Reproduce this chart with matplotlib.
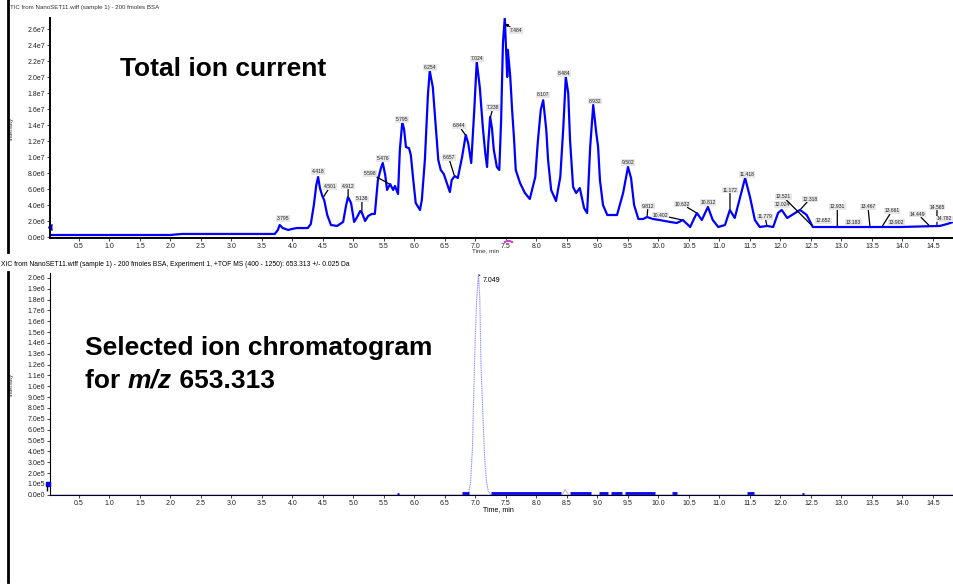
import matplotlib
import numpy as np

matplotlib.use("Agg")
import matplotlib.pyplot as plt
from matplotlib.lines import Line2D
from matplotlib.text import Annotation
from matplotlib.ticker import FuncFormatter, MultipleLocator

plt.rcParams["font.family"] = ["Liberation Sans", "DejaVu Sans"]

# total ion current trace (time in min, intensity in counts)
tic_time = [
    0.02, 0.84, 1.99, 2.19, 3.71, 3.76, 3.79, 3.84, 3.93, 3.99, 4.07, 4.25, 4.30, 4.35, 4.39,
    4.42, 4.45, 4.49, 4.52, 4.57, 4.63, 4.73, 4.83, 4.88, 4.91, 4.96, 5.01, 5.06, 5.11, 5.14,
    5.19, 5.24, 5.30, 5.35, 5.40, 5.45, 5.48, 5.52, 5.55, 5.60, 5.65, 5.68, 5.73, 5.76, 5.80,
    5.83, 5.86, 5.91, 5.94, 5.98, 6.02, 6.09, 6.12, 6.17, 6.22, 6.25, 6.30, 6.35, 6.39, 6.43,
    6.48, 6.53, 6.58, 6.61, 6.66, 6.71, 6.78, 6.84, 6.88, 6.93, 6.98, 7.02, 7.07, 7.12, 7.16,
    7.19, 7.21, 7.24, 7.27, 7.30, 7.35, 7.39, 7.42, 7.45, 7.48, 7.52, 7.53, 7.57, 7.60, 7.63,
    7.66, 7.73, 7.81, 7.89, 7.98, 8.02, 8.07, 8.11, 8.16, 8.19, 8.24, 8.32, 8.39, 8.44, 8.48,
    8.52, 8.55, 8.60, 8.65, 8.71, 8.78, 8.83, 8.88, 8.93, 8.98, 9.01, 9.04, 9.09, 9.16, 9.32,
    9.42, 9.50, 9.55, 9.60, 9.67, 9.75, 9.81, 9.91, 10.02, 10.19, 10.30, 10.40, 10.52, 10.58,
    10.63, 10.71, 10.81, 10.89, 10.98, 11.09, 11.17, 11.25, 11.34, 11.42, 11.50, 11.58, 11.66,
    11.78, 11.88, 11.96, 12.02, 12.11, 12.24, 12.32, 12.43, 12.53, 13.14, 13.96, 14.61, 14.73,
    14.83,
]
tic_int = [
    0.25, 0.25, 0.25, 0.38, 0.38, 0.88, 1.50, 1.12, 0.88, 1.00, 1.12, 1.12, 1.62, 4.00, 6.50,
    7.50, 6.10, 5.10, 4.60, 2.75, 1.50, 1.38, 1.88, 4.00, 5.00, 4.25, 1.88, 2.50, 3.25, 3.00,
    2.00, 2.62, 2.88, 2.88, 7.12, 8.62, 9.25, 7.75, 5.88, 6.62, 5.88, 6.38, 5.38, 10.9, 14.4,
    13.4, 11.25, 11.1, 10.25, 7.12, 4.25, 3.38, 4.62, 9.62, 17.75, 20.75, 18.75, 13.75, 9.62, 8.38,
    7.88, 6.75, 5.62, 7.12, 7.62, 7.38, 10.0, 12.75, 11.75, 9.25, 15.9, 21.9, 18.75, 13.75, 10.5,
    8.75, 11.75, 15.0, 13.6, 10.9, 8.75, 8.38, 14.6, 24.25, 27.4, 20.0, 23.4, 20.0, 15.9, 12.5,
    8.38, 6.75, 5.50, 4.75, 7.50, 11.75, 15.9, 17.1, 13.4, 9.62, 5.88, 4.50, 7.50, 13.75, 20.0,
    18.0, 12.1, 6.25, 5.50, 6.12, 3.62, 3.00, 11.25, 16.5, 13.0, 11.25, 7.12, 4.00, 2.75, 2.75,
    5.50, 8.75, 7.38, 4.00, 2.25, 2.25, 2.50, 2.25, 2.12, 1.88, 1.75, 2.12, 1.25, 2.25,
    3.00, 2.12, 3.75, 2.12, 1.25, 1.50, 3.38, 2.38, 5.00, 7.38, 5.00, 2.12, 1.25,
    1.38, 1.25, 3.00, 3.38, 2.38, 3.00, 3.38, 2.75, 1.25, 1.25, 1.25, 1.38, 1.62,
    1.88,
]
tic_int = np.array(tic_int) * 1e6

# labelled TIC peaks: retention time, label offset (px right, px up), leader line kind
peak_time = [3.795, 4.418, 4.501, 4.912, 5.138, 5.476, 5.598, 5.795, 6.254, 6.657, 6.844,
             7.024, 7.238, 7.484, 8.107, 8.484, 8.932, 9.502, 9.812, 10.402, 10.632, 10.812,
             11.172, 11.418, 11.779, 12.024, 12.521, 12.318, 12.652, 12.931, 13.183, 13.467,
             13.661, 13.902, 14.449, 14.565, 14.782]
peak_dx = [3, 0, 7, 0, 0, 0, -20, 0, 0, -6, -7, 0, 3, 11, 0, -2, 2, 0, 1, -23, -15, 0, 0,
           2, -2, 0, -29, 10, 3, 0, 1, -2, 10, 0, -12, 0, -6]
peak_dy = [7, 6, 11, 11, 14, 5, 11, 6, 5, 19, 10, 5, 11, -7, 6, 5, 5, 5, 11, 5, 9, 5, 20,
           4, 9, 6, 29, 11, 6, 20, 5, 20, 16, 5, 12, 19, 4]
peak_leader = [0, 0, 1, 1, 1, 0, 1, 0, 0, 1, 1, 0, 1, 2, 0, 0, 0, 0, 1, 1, 1, 0, 1,
               0, 1, 0, 1, 1, 0, 1, 0, 1, 1, 0, 1, 1, 0]

# extracted ion chromatogram, m/z 653.313
xic_time = [6.86, 6.89, 6.92, 6.95, 6.97, 6.99, 7.02, 7.049, 7.07, 7.09, 7.12, 7.15, 7.18, 7.21, 7.25]
xic_int = np.array([0.0, 0.02, 0.12, 0.43, 0.89, 1.35, 1.82, 2.03, 1.82, 1.20, 0.74, 0.34, 0.12, 0.03, 0.0]) * 1e6
xic_bump_time = [8.42, 8.47, 8.53]
xic_bump_int = np.array([0.0, 0.045, 0.0]) * 1e6
noise_start = [5.72, 6.78, 7.26, 8.55, 9.02, 9.22, 9.45, 10.22, 11.45, 12.36]
noise_end = [5.74, 6.90, 8.40, 8.90, 9.18, 9.40, 9.95, 10.31, 11.56, 12.38]
noise_level = [0.008, 0.012, 0.012, 0.012, 0.012, 0.012, 0.012, 0.012, 0.012, 0.008]
peak_label_time = 7.049

W, H = 954, 586
BLUE = "#0000ff"


def px(x, y):
    return x / W, 1 - y / H


def sci(v, pos):
    if v == 0:
        return "0.0e0"
    e = int(np.floor(np.log10(abs(v)) + 1e-9))
    return f"{v / 10 ** e:.1f}e{e}"


fig = plt.figure(figsize=(W / 100, H / 100), dpi=100)
ax1 = fig.add_axes([50 / W, 1 - 238 / H, 903 / W, 220 / H])
ax2 = fig.add_axes([50 / W, 1 - 495 / H, 903 / W, 222 / H])

for ax in (ax1, ax2):
    ax.spines["top"].set_visible(False)
    ax.spines["right"].set_visible(False)
    ax.set_xlim(0.0246, 14.828)
    ax.xaxis.set_major_locator(MultipleLocator(0.5))
    ax.xaxis.set_major_formatter(FuncFormatter(lambda v, p: "" if v < 0.25 else f"{v:.1f}"))
    ax.yaxis.set_major_formatter(FuncFormatter(sci))
    ax.tick_params(labelsize=5, length=2, width=0.6, pad=1.5, colors="#222222")
    ax.set_ylabel("Intensity", fontsize=4.5, color="#333333")
    ax.yaxis.set_label_coords(-0.041, 0.5)

# top panel: TIC
ax1.plot(tic_time, tic_int, color=BLUE, lw=1.6, solid_joinstyle="round")
ax1.set_ylim(-0.125e6, 27.375e6)
ax1.yaxis.set_major_locator(MultipleLocator(2e6))
for s in ("left", "bottom"):
    ax1.spines[s].set_linewidth(1.4)

tic_at = np.interp(peak_time, tic_time, tic_int)
for t, yv, dx, dy, lead in zip(peak_time, tic_at, peak_dx, peak_dy, peak_leader):
    props = None
    if lead == 1:
        props = dict(arrowstyle="-", color="k", lw=0.9, shrinkA=0, shrinkB=1)
    elif lead == 2:
        props = dict(arrowstyle="-|>", color="k", lw=0.8, mutation_scale=4, shrinkA=0, shrinkB=0)
    ax1.annotate(f"{t:.3f}", xy=(t, yv), xytext=(dx * 0.72, dy * 0.72), textcoords="offset points",
                 ha="center", va="center", fontsize=3.6, color="#222222",
                 bbox=dict(boxstyle="square,pad=0.15", fc="#e6e6e6", ec="none"),
                 arrowprops=props, annotation_clip=False)

# threshold marker and cursor on the TIC axes
ax1.plot([0.0], [1.25e6], marker=4, color=BLUE, ms=4, clip_on=False)
ax1.plot([7.53], [-0.015], marker=r"$\frown$", color="#cc44cc", ms=6,
         transform=ax1.get_xaxis_transform(), clip_on=False)

# bottom panel: XIC
ax2.plot([0.02, 14.83], [0, 0], color=BLUE, lw=1.0, zorder=3)
ax2.plot(xic_time, xic_int, color="#8c8cff", lw=0.8, ls=(0, (1, 0.6)), zorder=4)
ax2.plot(xic_bump_time, xic_bump_int, color="#b0b0ff", lw=0.7, zorder=4)
ax2.hlines(np.array(noise_level) * 1e6, noise_start, noise_end, color=BLUE, lw=2.0, zorder=4)
ax2.set_ylim(-0.003e6, 2.046e6)
ax2.yaxis.set_major_locator(MultipleLocator(1e5))
for s in ("left", "bottom"):
    ax2.spines[s].set_linewidth(0.8)
ax2.annotate(f"{peak_label_time:.3f}", xy=(peak_label_time, xic_int.max()), xytext=(3, -4.5),
             textcoords="offset points", ha="left", va="center", fontsize=5,
             arrowprops=dict(arrowstyle="-", color="k", lw=0.7, shrinkA=0, shrinkB=0))
ax2.plot([0.0], [1.0e5], marker="s", color=BLUE, ms=3, clip_on=False, zorder=5)
ax2.plot([-0.03], [0.9e5], marker=3, color="k", ms=4, clip_on=False, zorder=5)

# headers and axis captions
fig.text(*px(10, 8), "TIC from NanoSET11.wiff (sample 1) - 200 fmoles BSA", fontsize=4.4,
         va="center", ha="left", color="#333333")
fig.text(*px(1, 264), "XIC from NanoSET11.wiff (sample 1) - 200 fmoles BSA, Experiment 1, "
         "+TOF MS (400 - 1250): 653.313 +/- 0.025 Da", fontsize=4.9, va="center", ha="left")
fig.text(*px(485, 251), "Time, min", fontsize=4.5, ha="center", va="center", color="#333333")
fig.text(*px(498, 510), "Time, min", fontsize=5, ha="center", va="center")

fig.text(*px(120, 76), "Total ion current", fontsize=19, weight="bold", va="baseline")
fig.text(*px(85, 355), "Selected ion chromatogram", fontsize=19, weight="bold", va="baseline")
t1 = fig.text(*px(85, 388), "for ", fontsize=19, weight="bold", va="baseline")
t2 = fig.add_artist(Annotation("m/z", xy=(1, 0), xycoords=t1, va="bottom",
                               fontsize=19, weight="bold", style="italic"))
fig.add_artist(Annotation(" 653.313", xy=(1, 0), xycoords=t2, va="bottom",
                          fontsize=19, weight="bold"))

# page border on the left, broken where the XIC header sits
fig.add_artist(Line2D([8 / W, 8 / W], [1, 1 - 252 / H], color="k", lw=2))
fig.add_artist(Line2D([8 / W, 8 / W], [1 - 272 / H, 1 - 582 / H], color="k", lw=2))

fig.savefig("out.png", dpi=100)
